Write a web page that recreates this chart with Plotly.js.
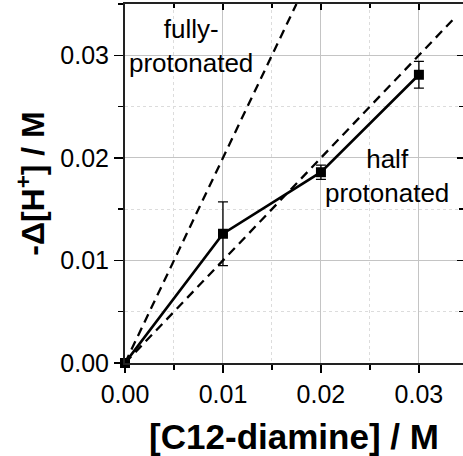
<!DOCTYPE html>
<html>
<head>
<meta charset="utf-8">
<script src="https://cdn.plot.ly/plotly-3.0.1.min.js"></script>
<style>html,body{margin:0;padding:0;background:#fff;}#chart{width:463px;height:456px;}</style>
</head>
<body>
<div id="chart"></div>
<script>
// Data
var concentration = [0.00, 0.01, 0.02, 0.03];          // [C12-diamine] / M
var deltaH = [0.0000, 0.0126, 0.0186, 0.0281];          // -Δ[H+] / M
var deltaHErr = [0.0000, 0.0031, 0.0007, 0.0013];
var fullX = [0, 0.0175];        // fully protonated reference: 2 H+ per diamine
var fullY = [0, 0.035];
var halfX = [0, 0.0337];        // half protonated reference: 1 H+ per diamine
var halfY = [0, 0.0337];
var xTickVals = [0, 0.01, 0.02, 0.03];
var xTickText = ["0.00", "0.01", "0.02", "0.03"];
var yTickVals = [0, 0.01, 0.02, 0.03];
var yTickText = ["0.00", "0.01", "0.02", "0.03"];

var FONT = "Arial, 'Liberation Sans', Helvetica, sans-serif";

var traces = [
  {x: fullX, y: fullY, mode: "lines", line: {color: "black", width: 2.3, dash: "9px,6px"}, hoverinfo: "skip"},
  {x: halfX, y: halfY, mode: "lines", line: {color: "black", width: 2.3, dash: "9px,6px"}, hoverinfo: "skip"},
  {x: concentration, y: deltaH, mode: "lines+markers",
   line: {color: "black", width: 2.6},
   marker: {symbol: "square", size: 10, color: "black"},
   error_y: {type: "data", array: deltaHErr, visible: true, color: "black", thickness: 1.3, width: 5},
   cliponaxis: false},
  {x: [0], y: [0], xaxis: "x2", yaxis: "y2", mode: "markers", marker: {opacity: 0}, hoverinfo: "skip"}
];

var gridMajor = "#c4c4c4";
var gridMinor = "#dcdcdc";

var layout = {
  width: 463, height: 456,
  margin: {l: 125, r: 0, t: 4, b: 93},
  paper_bgcolor: "white", plot_bgcolor: "white",
  showlegend: false,
  font: {family: FONT, color: "black", size: 25},
  xaxis: {
    range: [0, 0.0345], tickvals: xTickVals, ticktext: xTickText,
    ticks: "outside", ticklen: 8, tickwidth: 1.5, tickcolor: "black",
    showline: true, linecolor: "#222", linewidth: 2,
    showgrid: true, gridcolor: gridMajor, gridwidth: 1,
    zeroline: false,
    tickfont: {family: FONT, size: 25, color: "black"},
    minor: {dtick: 0.005, tick0: 0, ticks: "outside", ticklen: 5, tickwidth: 1.5, tickcolor: "black",
            showgrid: true, gridcolor: gridMinor, griddash: "dot", gridwidth: 1},
    title: {text: "<b>[C12-diamine] / M</b>", font: {family: FONT, size: 35, color: "black"}, standoff: 18}
  },
  yaxis: {
    range: [0, 0.035], tickvals: yTickVals, ticktext: yTickText,
    ticks: "outside", ticklen: 9, tickwidth: 1.5, tickcolor: "black",
    showline: true, linecolor: "#222", linewidth: 2,
    showgrid: true, gridcolor: gridMajor, gridwidth: 1,
    zeroline: false,
    tickfont: {family: FONT, size: 25, color: "black"},
    minor: {dtick: 0.005, tick0: 0, ticks: "outside", ticklen: 5, tickwidth: 1.5, tickcolor: "black",
            showgrid: true, gridcolor: gridMinor, griddash: "dot", gridwidth: 1},
    title: {text: "<b>-Δ[H<sup>+</sup>] / M</b>", font: {family: FONT, size: 32, color: "black"}, standoff: 6}
  },
  xaxis2: {
    overlaying: "x", side: "top", anchor: "y", range: [0, 0.0345],
    tickvals: xTickVals, showticklabels: false,
    ticks: "inside", ticklen: 6, tickwidth: 1.5, tickcolor: "black",
    showline: true, linecolor: "#222", linewidth: 2, showgrid: false, zeroline: false,
    minor: {dtick: 0.005, tick0: 0, ticks: "inside", ticklen: 4, tickwidth: 1.5, tickcolor: "black"}
  },
  yaxis2: {
    overlaying: "y", side: "right", anchor: "x", range: [0, 0.035],
    tickvals: yTickVals, showticklabels: false,
    ticks: "inside", ticklen: 6, tickwidth: 1.5, tickcolor: "black",
    showline: false, showgrid: false, zeroline: false,
    minor: {dtick: 0.005, tick0: 0, ticks: "inside", ticklen: 4, tickwidth: 1.5, tickcolor: "black"}
  },
  annotations: [
    {x: 0.00677, y: 0.0309, xref: "x", yref: "y", text: "fully-<br>protonated", showarrow: false,
     font: {family: FONT, size: 26, color: "black"}, align: "center"},
    {x: 0.0267, y: 0.0182, xref: "x", yref: "y", text: "half<br>protonated", showarrow: false,
     font: {family: FONT, size: 26, color: "black"}, align: "center"}
  ]
};

Plotly.newPlot("chart", traces, layout, {staticPlot: true, displayModeBar: false});
</script>
</body>
</html>
